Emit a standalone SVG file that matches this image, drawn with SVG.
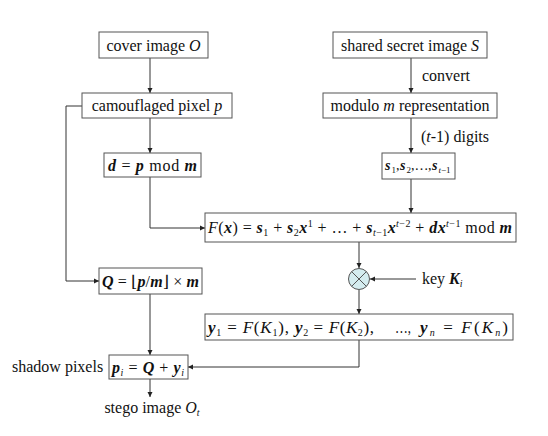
<svg xmlns="http://www.w3.org/2000/svg" width="548" height="436" viewBox="0 0 548 436" font-family="'Liberation Serif','Times New Roman',serif">
<defs>
<marker id="ah" markerWidth="6" markerHeight="6" refX="5" refY="3" orient="auto" markerUnits="userSpaceOnUse">
<path d="M0,0.5 L5,3 L0,5.5 Z" fill="#222"/>
</marker>
<style>
text{font-family:"Liberation Serif","Times New Roman",serif;font-size:16px;fill:#111}
.box{fill:#fff;stroke:#555;stroke-width:1}
.c{stroke:#333;stroke-width:1;fill:none}
.v{font-style:italic;font-weight:bold}
.i{font-style:italic}
.s{font-size:10px}
.m{text-anchor:middle}
.y{font-size:17px}
.ds{font-size:14px}
.dsub{font-size:9px}
</style>
</defs>
<rect width="548" height="436" fill="#fff"/>
<g id="connectors">
<path class="c" d="M150,58 V93" marker-end="url(#ah)"/>
<path class="c" d="M150,118 V153" marker-end="url(#ah)"/>
<path class="c" d="M150,177 V228 H205" marker-end="url(#ah)"/>
<path class="c" d="M82,106 H66 V281 H99" marker-end="url(#ah)"/>
<path class="c" d="M411,58 V93" marker-end="url(#ah)"/>
<path class="c" d="M411,118 V153" marker-end="url(#ah)"/>
<path class="c" d="M411,179 V213" marker-end="url(#ah)"/>
<path class="c" d="M359,242 V268" marker-end="url(#ah)"/>
<path class="c" d="M416,279 H370" marker-end="url(#ah)"/>
<path class="c" d="M359,290 V314" marker-end="url(#ah)"/>
<path class="c" d="M359,340 V367 H188" marker-end="url(#ah)"/>
<path class="c" d="M150,294 V355" marker-end="url(#ah)"/>
<path class="c" d="M150,379 V397" marker-end="url(#ah)"/>
<text x="422" y="81">convert</text>
<text x="421" y="142">(<tspan class="i">t</tspan>-1) digits</text>
</g>
<g id="cover">
<rect class="box" x="99" y="32" width="109" height="26"/>
<text class="m" x="153.5" y="50.5">cover image <tspan class="i">O</tspan></text>
</g>
<g id="camouflaged">
<rect class="box" x="82" y="93" width="150" height="25"/>
<text class="m" x="157" y="111">camouflaged pixel <tspan class="i">p</tspan></text>
</g>
<g id="dmod">
<rect class="box" x="104" y="153" width="97" height="24"/>
<text x="108" y="171" textLength="89" lengthAdjust="spacing"><tspan class="v">d</tspan> = <tspan class="v">p</tspan> mod <tspan class="v">m</tspan></text>
</g>
<g id="secret">
<rect class="box" x="333" y="32" width="154" height="26"/>
<text class="m" x="410" y="50.5">shared secret image <tspan class="i">S</tspan></text>
</g>
<g id="modulo">
<rect class="box" x="323" y="93" width="174" height="25"/>
<text class="m" x="410" y="111">modulo <tspan class="i">m</tspan> representation</text>
</g>
<g id="digits">
<rect class="box" x="382" y="153" width="73" height="26"/>
<text class="ds" y="170"><tspan class="v" x="385">s</tspan><tspan class="dsub" x="391.5" y="173">1</tspan><tspan x="396" y="170">,</tspan><tspan class="v" x="400">s</tspan><tspan class="dsub" x="406.5" y="173">2</tspan><tspan x="411" y="170">,</tspan><tspan x="414.5" y="170">…</tspan><tspan x="428" y="170">,</tspan><tspan class="v" x="432">s</tspan><tspan class="dsub" x="438.5" y="173"><tspan class="i">t</tspan>−1</tspan></text>
</g>
<g id="poly">
<rect class="box" x="205" y="213" width="311" height="29"/>
<text x="208" y="233" textLength="304" lengthAdjust="spacing"><tspan class="i">F</tspan>(<tspan class="v">x</tspan>) = <tspan class="v">s</tspan><tspan class="s" dy="3">1</tspan><tspan dy="-3"> + </tspan><tspan class="v">s</tspan><tspan class="s" dy="3">2</tspan><tspan class="v" dy="-3">x</tspan><tspan class="s" dy="-6">1</tspan><tspan dy="6"> + … + </tspan><tspan class="v">s</tspan><tspan class="s" dy="3"><tspan class="i">t</tspan>−1</tspan><tspan class="v" dy="-3">x</tspan><tspan class="s" dy="-6"><tspan class="i">t</tspan>−2</tspan><tspan dy="6"> + </tspan><tspan class="v">dx</tspan><tspan class="s" dy="-6"><tspan class="i">t</tspan>−1</tspan><tspan dy="6">  mod </tspan><tspan class="v">m</tspan></text>
</g>
<g id="xor">
<circle cx="359" cy="279" r="10.5" fill="#d4ecef" stroke="#555"/>
<path d="M351.6,271.6 L366.4,286.4 M366.4,271.6 L351.6,286.4" stroke="#555" stroke-width="1"/>
</g>
<g id="key">
<text x="422" y="284">key  <tspan class="v">K</tspan><tspan class="s i" dy="3">i</tspan></text>
</g>
<g id="shares">
<rect class="box" x="205" y="314" width="308" height="26"/>
<text class="y" x="208" y="333" textLength="81" lengthAdjust="spacing"><tspan class="v">y</tspan><tspan class="s" dy="3">1</tspan><tspan dy="-3"> = </tspan><tspan class="i">F</tspan>(<tspan class="i">K</tspan><tspan class="s" dy="3">1</tspan><tspan dy="-3">),</tspan></text>
<text class="y" x="295" y="333" textLength="79" lengthAdjust="spacing"><tspan class="v">y</tspan><tspan class="s" dy="3">2</tspan><tspan dy="-3"> = </tspan><tspan class="i">F</tspan>(<tspan class="i">K</tspan><tspan class="s" dy="3">2</tspan><tspan dy="-3">),</tspan></text>
<text class="y" x="395" y="333" textLength="16" lengthAdjust="spacingAndGlyphs">…,</text>
<text class="y" x="420" y="333" textLength="88" lengthAdjust="spacing"><tspan class="v">y</tspan><tspan class="s i" dy="3">n</tspan><tspan dy="-3"> = </tspan><tspan class="i">F</tspan>(<tspan class="i">K</tspan><tspan class="s i" dy="3">n</tspan><tspan dy="-3">)</tspan></text>
</g>
<g id="quotient">
<rect class="box" x="99" y="268" width="103" height="26"/>
<text x="102" y="287" textLength="97" lengthAdjust="spacing"><tspan class="v">Q</tspan> = <tspan style="font-family:'DejaVu Serif',serif;font-size:16px">⌊</tspan><tspan class="v">p</tspan>/<tspan class="v">m</tspan><tspan style="font-family:'DejaVu Serif',serif;font-size:16px">⌋</tspan> × <tspan class="v">m</tspan></text>
</g>
<g id="shadow">
<rect class="box" x="109" y="355" width="79" height="24"/>
<text x="112" y="372.5" textLength="72" lengthAdjust="spacing"><tspan class="v">p</tspan><tspan class="s i" dy="3">i</tspan><tspan dy="-3"> = </tspan><tspan class="v">Q</tspan> + <tspan class="v">y</tspan><tspan class="s i" dy="3">i</tspan></text>
<text x="12" y="372">shadow pixels</text>
</g>
<g id="stego">
<text class="m" x="152" y="413">stego image <tspan class="i">O</tspan><tspan class="s i" dy="3">t</tspan></text>
</g>
</svg>
